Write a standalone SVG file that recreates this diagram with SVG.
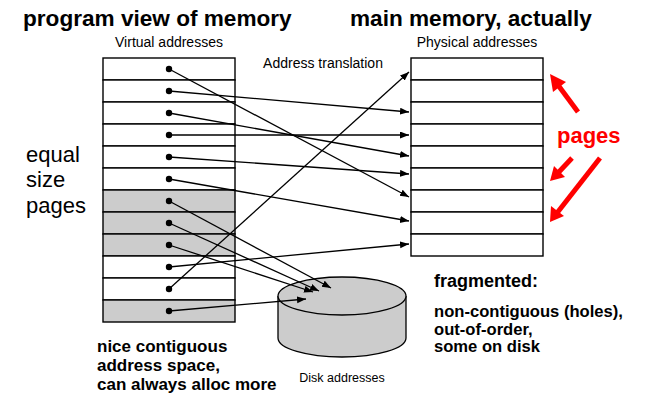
<svg xmlns="http://www.w3.org/2000/svg" width="646" height="411" viewBox="0 0 646 411">
<style>
text{font-family:"Liberation Sans",Arial,sans-serif;fill:#000}
.title{font-size:22.6px;font-weight:bold}
.lbl{font-size:14px}
.big{font-size:22px}
.note{font-size:17px;font-weight:bold}
.note2{font-size:16.6px;font-weight:bold}
.cell{fill:#fff;stroke:#000;stroke-width:1.4}
.g{fill:#cccccc}
.ln{stroke:#000;stroke-width:1.3;fill:none;marker-end:url(#ah)}
.dot{fill:#000}
.red{stroke:#ff0000;stroke-width:5;fill:none}
.redh{fill:#ff0000}
</style>
<defs>
<marker id="ah" markerUnits="userSpaceOnUse" markerWidth="10" markerHeight="8" refX="9" refY="3.5" orient="auto">
<path d="M0,0 L9,3.5 L0,7 z" fill="#000"/>
</marker>
</defs>
<rect width="646" height="411" fill="#fff"/>

<text class="title" x="23" y="26">program view of memory</text>
<text class="title" x="350" y="26">main memory, actually</text>
<text class="lbl" x="169" y="47" text-anchor="middle">Virtual addresses</text>
<text class="lbl" x="477" y="47" text-anchor="middle">Physical addresses</text>
<text class="lbl" x="323" y="68" text-anchor="middle">Address translation</text>

<g id="equal-size-pages">
<text class="big" x="26" y="162">equal</text>
<text class="big" x="26" y="187">size</text>
<text class="big" x="26" y="213">pages</text>
</g>

<g id="virtual-table">
<rect class="cell" x="103" y="58" width="132" height="22"/>
<rect class="cell" x="103" y="80" width="132" height="22"/>
<rect class="cell" x="103" y="102" width="132" height="22"/>
<rect class="cell" x="103" y="124" width="132" height="22"/>
<rect class="cell" x="103" y="146" width="132" height="22"/>
<rect class="cell" x="103" y="168" width="132" height="22"/>
<rect class="cell g" x="103" y="190" width="132" height="22"/>
<rect class="cell g" x="103" y="212" width="132" height="22"/>
<rect class="cell g" x="103" y="234" width="132" height="22"/>
<rect class="cell" x="103" y="256" width="132" height="22"/>
<rect class="cell" x="103" y="278" width="132" height="22"/>
<rect class="cell g" x="103" y="300" width="132" height="22"/>
</g>

<g id="physical-table">
<rect class="cell" x="411" y="58" width="132" height="22"/>
<rect class="cell" x="411" y="80" width="132" height="22"/>
<rect class="cell" x="411" y="102" width="132" height="22"/>
<rect class="cell" x="411" y="124" width="132" height="22"/>
<rect class="cell" x="411" y="146" width="132" height="22"/>
<rect class="cell" x="411" y="168" width="132" height="22"/>
<rect class="cell" x="411" y="190" width="132" height="22"/>
<rect class="cell" x="411" y="212" width="132" height="22"/>
<rect class="cell" x="411" y="234" width="132" height="22"/>
</g>

<g id="disk">
<path d="M278,296 L278,338 A64,19 0 0 0 406,338 L406,296" fill="#cccccc" stroke="#000" stroke-width="1.3"/>
<ellipse cx="342" cy="296" rx="64" ry="19" fill="#cccccc" stroke="#000" stroke-width="1.3"/>
<text x="342" y="382" font-size="12.5" text-anchor="middle">Disk addresses</text>
</g>

<g id="connectors">
<line class="ln" x1="169" y1="69" x2="409" y2="197"/>
<line class="ln" x1="169" y1="91" x2="409" y2="112"/>
<line class="ln" x1="169" y1="113" x2="409" y2="156"/>
<line class="ln" x1="169" y1="135" x2="409" y2="135"/>
<line class="ln" x1="169" y1="157" x2="409" y2="174"/>
<line class="ln" x1="169" y1="179" x2="409" y2="221"/>
<line class="ln" x1="169" y1="201" x2="331" y2="288"/>
<line class="ln" x1="169" y1="223" x2="319" y2="291"/>
<line class="ln" x1="169" y1="245" x2="313" y2="292"/>
<line class="ln" x1="169" y1="267" x2="409" y2="244"/>
<line class="ln" x1="169" y1="289" x2="409" y2="72"/>
<line class="ln" x1="169" y1="311" x2="306" y2="299"/>
</g>

<g id="dots">
<circle class="dot" cx="169" cy="69" r="3.2"/>
<circle class="dot" cx="169" cy="91" r="3.2"/>
<circle class="dot" cx="169" cy="113" r="3.2"/>
<circle class="dot" cx="169" cy="135" r="3.2"/>
<circle class="dot" cx="169" cy="157" r="3.2"/>
<circle class="dot" cx="169" cy="179" r="3.2"/>
<circle class="dot" cx="169" cy="201" r="3.2"/>
<circle class="dot" cx="169" cy="223" r="3.2"/>
<circle class="dot" cx="169" cy="245" r="3.2"/>
<circle class="dot" cx="169" cy="267" r="3.2"/>
<circle class="dot" cx="169" cy="289" r="3.2"/>
<circle class="dot" cx="169" cy="311" r="3.2"/>
</g>

<g id="pages-label">
<text x="557" y="143" font-size="22" font-weight="bold" style="fill:#ff0000">pages</text>
<line class="red" x1="578" y1="112" x2="558" y2="85"/>
<polygon class="redh" points="550,74 566,82 553,92"/>
<line class="red" x1="572" y1="158" x2="558" y2="173"/>
<polygon class="redh" points="550,181 554,166 565,177"/>
<line class="red" x1="600" y1="158" x2="557" y2="213"/>
<polygon class="redh" points="550,222 551,206 564,216"/>
</g>

<g id="fragmented-note">
<text x="434" y="287" font-size="18" font-weight="bold">fragmented:</text>
<text class="note2" x="434" y="317">non-contiguous (holes),</text>
<text class="note2" x="434" y="334.5">out-of-order,</text>
<text class="note2" x="434" y="352">some on disk</text>
</g>

<g id="contiguous-note">
<text class="note" x="97" y="352">nice contiguous</text>
<text class="note" x="97" y="371">address space,</text>
<text class="note" x="97" y="390">can always alloc more</text>
</g>
</svg>
